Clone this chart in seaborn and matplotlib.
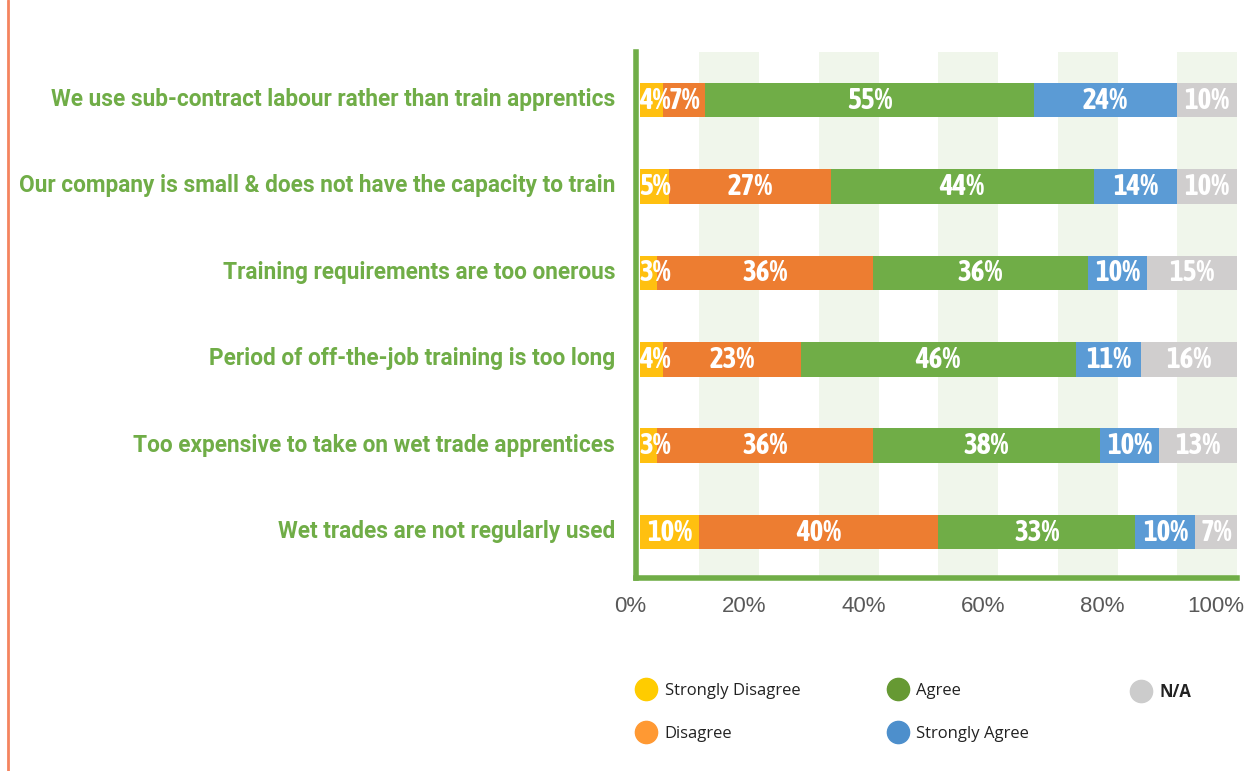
import matplotlib
matplotlib.use("Agg")
import matplotlib.pyplot as plt
from matplotlib.lines import Line2D
from matplotlib import font_manager
from matplotlib.font_manager import FontProperties
import matplotlib.transforms as mtransforms
import numpy as np
import pandas as pd
import seaborn as sns

categories = [
    "We use sub-contract labour rather than train apprentics",
    "Our company is small & does not have the capacity to train",
    "Training requirements are too onerous",
    "Period of off-the-job training is too long",
    "Too expensive to take on wet trade apprentices",
    "Wet trades are not regularly used",
]
series_names = ["Strongly Disagree", "Disagree", "Agree", "Strongly Agree", "N/A"]
strongly_disagree = [4, 5, 3, 4, 3, 10]
disagree = [7, 27, 36, 23, 36, 40]
agree = [55, 44, 36, 46, 38, 33]
strongly_agree = [24, 14, 10, 11, 10, 10]
not_applicable = [10, 10, 15, 16, 13, 7]
x_ticks = [0, 20, 40, 60, 80, 100]

bar_colors = ["#FFC010", "#ED7D31", "#70AD47", "#5B9BD5", "#D0CECE"]
legend_colors = ["#FFCC00", "#FF9933", "#669933", "#4D8FCC", "#CCCCCC"]
green_text = "#70AD47"

sns.set_theme(style="white")


def condensed_bold_file():
    """Return the file of a narrow bold face if one is installed."""
    entries = font_manager.fontManager.ttflist
    prefs = [
        lambda f: f.name == "Liberation Sans Narrow" and f.weight in (700, "bold") and f.style == "normal",
        lambda f: "Condensed" in f.name and f.weight in (700, "bold") and f.style == "normal",
        lambda f: f.stretch == "condensed" and f.weight in (700, "bold") and f.style == "normal",
    ]
    for test in prefs:
        for f in entries:
            try:
                ok = test(f)
            except Exception:
                ok = False
            if ok:
                return f.fname
    return None


narrow_file = condensed_bold_file()
if narrow_file:
    value_font = FontProperties(fname=narrow_file, size=21)
else:
    value_font = FontProperties(family=["Liberation Sans", "DejaVu Sans"], weight="bold", size=16)

fig = plt.figure(figsize=(12.46, 7.71), dpi=100)
ax = fig.add_axes([0.5104, 0.2503, 0.9928 - 0.5104, 0.9326 - 0.2503])

values = np.array([strongly_disagree, disagree, agree, strongly_agree, not_applicable], dtype=float)
cumulative = values.cumsum(axis=0)

# stacked bars: draw cumulative totals from the outermost segment inward
for i in range(len(series_names) - 1, -1, -1):
    df = pd.DataFrame({"category": categories, "total": cumulative[i]})
    sns.barplot(data=df, x="total", y="category", orient="h", color=bar_colors[i],
                saturation=1, width=0.4, linewidth=0, ax=ax, errorbar=None)

# segment value labels; very thin first segments start at the bar origin
for i in range(len(series_names)):
    for r in range(len(categories)):
        v = values[i, r]
        start = cumulative[i, r] - v
        if i == 0 and v < 6:
            ax.text(start, r, f"{int(v)}%", ha="left", va="center", color="white",
                    fontproperties=value_font, zorder=5)
        else:
            ax.text(start + v / 2, r, f"{int(v)}%", ha="center", va="center", color="white",
                    fontproperties=value_font, zorder=5)

# light alternating bands
for band_start in range(10, 100, 20):
    ax.axvspan(band_start, band_start + 10, color="#F0F6EB", zorder=0, lw=0)

ax.set_xlim(-0.6, 100)
ax.set_ylim(5.53, -0.556)
ax.set_xlabel("")
ax.set_ylabel("")

for s in ["top", "right"]:
    ax.spines[s].set_visible(False)
for s in ["left", "bottom"]:
    ax.spines[s].set_color(green_text)
    ax.spines[s].set_linewidth(4)

ax.set_xticks(x_ticks)
ax.set_xticklabels([f"{t}%" for t in x_ticks])
ax.tick_params(axis="both", length=0)
ax.tick_params(axis="x", pad=13, labelsize=16, labelcolor="#595959")
shift = mtransforms.ScaledTranslation(7 / 100, 0, fig.dpi_scale_trans)
for lab in ax.get_xticklabels():
    lab.set_horizontalalignment("right")
    lab.set_family(["Liberation Sans", "DejaVu Sans"])
    lab.set_transform(lab.get_transform() + shift)

ax.tick_params(axis="y", pad=15)
lift = mtransforms.ScaledTranslation(0, 3 / 100, fig.dpi_scale_trans)
for lab in ax.get_yticklabels():
    lab.set_family(["Roboto", "DejaVu Sans"])
    lab.set_fontweight("bold")
    lab.set_fontsize(16.3)
    lab.set_color(green_text)
    lab.set_transform(lab.get_transform() + lift)

# left accent rule
fig.add_artist(Line2D([0.0065, 0.0065], [0, 1], color="#F4845F", lw=2, transform=fig.transFigure))

# legend: three columns anchored separately
handles = [Line2D([0], [0], marker="o", linestyle="none", markersize=16,
                  markerfacecolor=c, markeredgecolor=c) for c in legend_colors]
columns = [([0, 1], 0.5041), ([2, 3], 0.7056), ([4], 0.9009)]
for idx, xpos in columns:
    leg = fig.legend([handles[k] for k in idx], [series_names[k] for k in idx],
                     loc="upper left", bbox_to_anchor=(xpos, 0.1255), frameon=False,
                     prop={"family": ["Open Sans", "DejaVu Sans"], "size": 12},
                     handlelength=1.2, handletextpad=0.5, labelspacing=1.62, borderpad=0)
    for k, t in zip(idx, leg.get_texts()):
        t.set_color("#222222")
        if series_names[k] == "N/A":
            t.set_fontweight("bold")

fig.savefig("out.png", dpi=100)
